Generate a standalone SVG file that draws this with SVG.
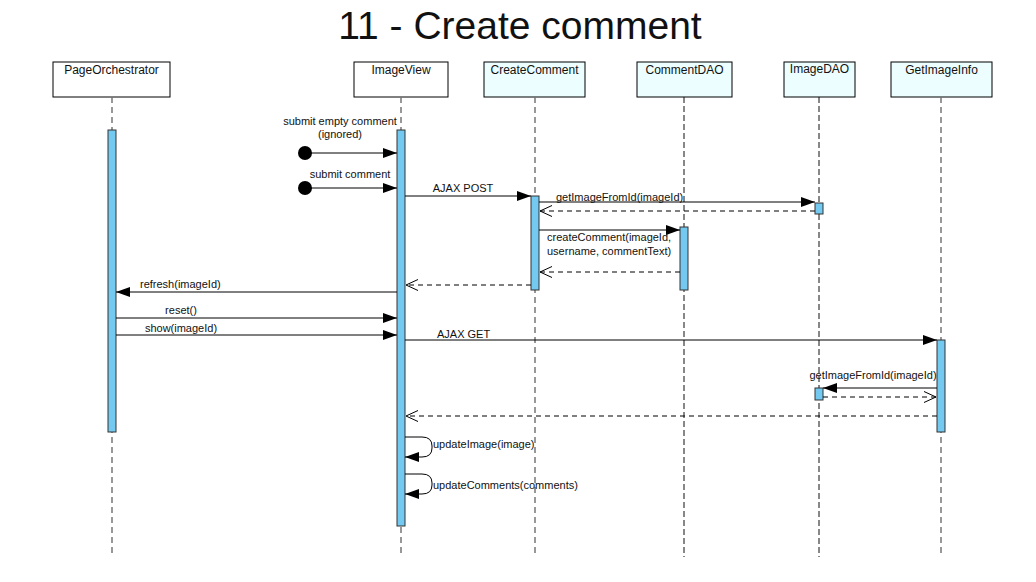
<svg xmlns="http://www.w3.org/2000/svg" width="1036" height="582" viewBox="0 0 1036 582">
<style>
.t{font-family:"Liberation Sans",Arial,sans-serif;fill:#111}
.lbl{font-size:11px}
.nm{font-size:12px;text-anchor:middle}
.box{stroke:#000;stroke-width:1}
.w{fill:#fff}
.c{fill:#ecfeff}
.ll{stroke:#777;stroke-width:1.5;stroke-dasharray:6,4;fill:none}
.llk{stroke:#111;stroke-width:1;stroke-dasharray:6,3;fill:none}
.act{fill:#74c9f1;stroke:#333;stroke-width:1}
.m{stroke:#000;stroke-width:1;fill:none}
.r{stroke:#000;stroke-width:1;stroke-dasharray:5,4;fill:none}
</style>
<defs>
<marker id="fa" markerUnits="userSpaceOnUse" markerWidth="16" markerHeight="12" refX="14" refY="5" orient="auto"><path d="M0,0 L14,5 L0,10 z" fill="#000"/></marker>
<marker id="oa" markerUnits="userSpaceOnUse" markerWidth="16" markerHeight="14" refX="13" refY="6" orient="auto"><path d="M1,0.5 L13,6 L1,11.5" fill="none" stroke="#000" stroke-width="1"/></marker>
</defs>
<rect width="1036" height="582" fill="#fff"/>
<text class="t" x="520" y="39" font-size="39" text-anchor="middle" fill="#000">11 - Create comment</text>

<g id="PageOrchestrator">
<rect class="box w" x="53" y="62" width="117" height="35"/>
<text class="t nm" x="111.5" y="74">PageOrchestrator</text>
<line class="ll" x1="112" y1="97" x2="112" y2="557"/>
<rect class="act" x="108" y="130" width="8" height="302"/>
</g>
<g id="ImageView">
<rect class="box w" x="354" y="62" width="94" height="35"/>
<text class="t nm" x="401" y="74">ImageView</text>
<line class="ll" x1="401" y1="97" x2="401" y2="557"/>
<rect class="act" x="397" y="130" width="8" height="396"/>
</g>
<g id="CreateComment">
<rect class="box c" x="484" y="62" width="101" height="35"/>
<text class="t nm" x="534.5" y="74">CreateComment</text>
<line class="ll" x1="535" y1="97" x2="535" y2="557"/>
<rect class="act" x="531" y="196" width="8" height="94"/>
</g>
<g id="CommentDAO">
<rect class="box c" x="637" y="62" width="95" height="35"/>
<text class="t nm" x="684.5" y="74">CommentDAO</text>
<line class="llk" x1="684" y1="97" x2="684" y2="557"/>
<rect class="act" x="680" y="227" width="8" height="63"/>
</g>
<g id="ImageDAO">
<rect class="box c" x="784" y="62" width="71" height="35"/>
<text class="t nm" x="819.5" y="73" font-size="11">ImageDAO</text>
<line class="llk" x1="819" y1="97" x2="819" y2="557"/>
<rect class="act" x="815" y="203" width="8" height="11"/>
<rect class="act" x="815" y="388" width="8" height="12"/>
</g>
<g id="GetImageInfo">
<rect class="box c" x="891" y="62" width="101" height="35"/>
<text class="t nm" x="941.5" y="74">GetImageInfo</text>
<line class="ll" x1="941" y1="97" x2="941" y2="557"/>
<rect class="act" x="937" y="340" width="8" height="92"/>
</g>

<g id="connectors">
<circle cx="305" cy="153" r="7" fill="#000"/>
<line class="m" x1="305" y1="153" x2="397" y2="153" marker-end="url(#fa)"/>
<text class="t lbl" x="340" y="125" text-anchor="middle">submit empty comment</text>
<text class="t lbl" x="340" y="138" text-anchor="middle">(ignored)</text>

<circle cx="305" cy="188" r="7" fill="#000"/>
<line class="m" x1="305" y1="188" x2="397" y2="188" marker-end="url(#fa)"/>
<text class="t lbl" x="350" y="178" text-anchor="middle">submit comment</text>

<line class="m" x1="405" y1="196" x2="531" y2="196" marker-end="url(#fa)"/>
<text class="t lbl" x="463" y="192" text-anchor="middle">AJAX POST</text>

<line class="m" x1="539" y1="202" x2="815" y2="202" marker-end="url(#fa)"/>
<text class="t lbl" x="556" y="201">getImageFromId(imageId)</text>
<line class="r" x1="815" y1="211" x2="540" y2="211" marker-end="url(#oa)"/>

<line class="m" x1="539" y1="230" x2="680" y2="230" marker-end="url(#fa)"/>
<text class="t lbl" x="547" y="241">createComment(imageId,</text>
<text class="t lbl" x="547" y="255">username, commentText)</text>
<line class="r" x1="680" y1="272" x2="540" y2="272" marker-end="url(#oa)"/>

<line class="r" x1="531" y1="285" x2="406" y2="285" marker-end="url(#oa)"/>

<line class="m" x1="397" y1="292" x2="116" y2="292" marker-end="url(#fa)"/>
<text class="t lbl" x="140" y="288">refresh(imageId)</text>

<line class="m" x1="116" y1="318" x2="397" y2="318" marker-end="url(#fa)"/>
<text class="t lbl" x="181" y="314" text-anchor="middle">reset()</text>

<line class="m" x1="116" y1="335" x2="397" y2="335" marker-end="url(#fa)"/>
<text class="t lbl" x="181" y="332" text-anchor="middle">show(imageId)</text>

<line class="m" x1="405" y1="340" x2="937" y2="340" marker-end="url(#fa)"/>
<text class="t lbl" x="437" y="338">AJAX GET</text>

<line class="m" x1="937" y1="388" x2="823" y2="388" marker-end="url(#fa)"/>
<text class="t lbl" x="873" y="379" text-anchor="middle">getImageFromId(imageId)</text>
<line class="r" x1="823" y1="397" x2="936" y2="397" marker-end="url(#oa)"/>

<line class="r" x1="937" y1="416" x2="406" y2="416" marker-end="url(#oa)"/>

<path class="m" d="M405,437 L422,437 Q432,437 432,446 L432,448 Q432,457 422,457 L405,457" marker-end="url(#fa)"/>
<text class="t lbl" x="433" y="448">updateImage(image)</text>

<path class="m" d="M405,474 L422,474 Q432,474 432,483 L432,485 Q432,494 422,494 L405,494" marker-end="url(#fa)"/>
<text class="t lbl" x="433" y="489">updateComments(comments)</text>
</g>
</svg>
